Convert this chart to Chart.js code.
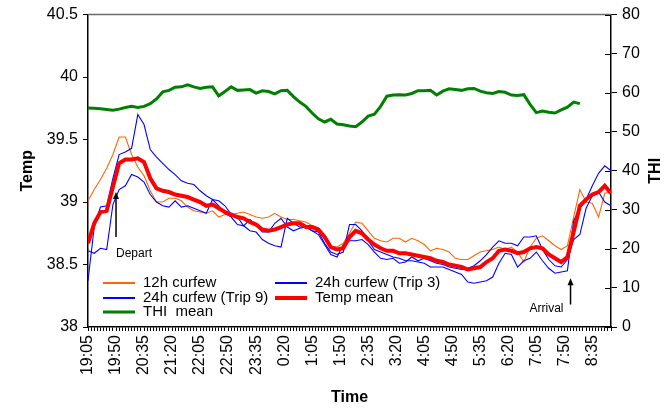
<!DOCTYPE html>
<html>
<head>
<meta charset="utf-8">
<script src="https://cdn.jsdelivr.net/npm/chart.js@4"></script>
<style>
html,body{margin:0;padding:0;background:#fff;}
#wrap{position:relative;width:671px;height:410px;}
</style>
</head>
<body>
<div id="wrap"><canvas id="chart"></canvas></div>
<script>
// minutes after 19:05, one reading every 10 min
const times = [
  0, 10, 20, 30, 40, 50, 60, 70, 80, 90,
  100, 110, 120, 130, 140, 150, 160, 170, 180, 190,
  200, 210, 220, 230, 240, 250, 260, 270, 280, 290,
  300, 310, 320, 330, 340, 350, 360, 370, 380, 390,
  400, 410, 420, 430, 440, 450, 460, 470, 480, 490,
  500, 510, 520, 530, 540, 550, 560, 570, 580, 590,
  600, 610, 620, 630, 640, 650, 660, 670, 680, 690,
  700, 710, 720, 730, 740, 750, 760, 770, 780, 790,
  800, 810, 820, 830, 840
];

const curfew12h = [
  39.01, 39.10, 39.18, 39.27, 39.38, 39.52, 39.52, 39.38, 39.28, 39.21,
  39.09, 39.00, 39.00, 39.03, 39.03, 39.01, 38.96, 38.93, 38.92, 38.91,
  38.93, 38.88, 38.90, 38.90, 38.91, 38.92, 38.90, 38.88, 38.87, 38.88,
  38.91, 38.88, 38.86, 38.86, 38.85, 38.84, 38.81, 38.79, 38.73, 38.65,
  38.64, 38.67, 38.75, 38.84, 38.83, 38.77, 38.71, 38.69, 38.68, 38.71,
  38.71, 38.68, 38.71, 38.69, 38.66, 38.61, 38.63, 38.62, 38.60, 38.55,
  38.54, 38.54, 38.57, 38.60, 38.61, 38.62, 38.64, 38.62, 38.64, 38.60,
  38.52, 38.64, 38.71, 38.73, 38.69, 38.65, 38.62, 38.65, 38.88, 39.10,
  39.00, 38.99, 38.88, 39.07, 39.08
];

const curfewTrip3 = [
  38.37, 38.80, 38.96, 38.97, 39.19, 39.38, 39.40, 39.43, 39.70, 39.62,
  39.42, 39.36, 39.31, 39.26, 39.22, 39.17, 39.15, 39.14, 39.09, 39.05,
  39.02, 39.01, 38.97, 38.90, 38.88, 38.81, 38.77, 38.76, 38.70, 38.67,
  38.65, 38.64, 38.87, 38.83, 38.80, 38.80, 38.77, 38.76, 38.67, 38.60,
  38.58, 38.60, 38.82, 38.82, 38.77, 38.69, 38.62, 38.60, 38.58, 38.56,
  38.55, 38.53, 38.53, 38.52, 38.51, 38.48, 38.48, 38.48, 38.46, 38.44,
  38.42, 38.36, 38.35, 38.36, 38.37, 38.40, 38.51, 38.59, 38.58, 38.48,
  38.53, 38.55, 38.60, 38.53, 38.47, 38.43, 38.44, 38.45, 38.85, 38.95,
  39.02, 39.13, 39.23, 39.29, 39.25
];

const curfewTrip9 = [
  38.61, 38.59, 38.63, 38.62, 38.98, 39.10, 39.13, 39.22, 39.20, 39.16,
  39.06, 39.00, 38.97, 38.96, 39.01, 38.96, 38.97, 38.95, 38.93, 38.91,
  39.02, 38.97, 38.91, 38.88, 38.82, 38.81, 38.86, 38.82, 38.76, 38.76,
  38.83, 38.87, 38.80, 38.77, 38.79, 38.80, 38.77, 38.74, 38.66, 38.58,
  38.56, 38.66, 38.69, 38.69, 38.70, 38.66, 38.60, 38.55, 38.54, 38.55,
  38.51, 38.52, 38.56, 38.53, 38.55, 38.53, 38.51, 38.50, 38.48, 38.47,
  38.46, 38.47, 38.49, 38.53, 38.58, 38.64, 38.69, 38.67, 38.67, 38.65,
  38.72, 38.72, 38.73, 38.62, 38.54, 38.49, 38.48, 38.54, 38.70, 38.74,
  38.95, 39.05, 39.08, 39.00, 38.97
];

const tempMean = [
  38.67, 38.83, 38.92, 38.93, 39.12, 39.31, 39.34, 39.34, 39.35, 39.32,
  39.19, 39.11, 39.09, 39.08, 39.06, 39.05, 39.04, 39.02, 39.00, 38.97,
  38.98, 38.95, 38.92, 38.90, 38.88, 38.87, 38.84, 38.82, 38.78, 38.77,
  38.78, 38.80, 38.82, 38.83, 38.83, 38.80, 38.80, 38.78, 38.72, 38.64,
  38.62, 38.63, 38.72, 38.77, 38.75, 38.70, 38.66, 38.63, 38.61, 38.61,
  38.59, 38.59, 38.58, 38.57, 38.56, 38.55, 38.53, 38.52, 38.50, 38.49,
  38.48, 38.46, 38.47, 38.48, 38.52, 38.55, 38.61, 38.62, 38.61, 38.59,
  38.60, 38.63, 38.64, 38.63, 38.58, 38.55, 38.52, 38.56, 38.76, 38.97,
  39.02, 39.06, 39.08, 39.13, 39.07
];

const thiMean = [
  56.1, 56.0, 55.9, 55.7, 55.5, 55.8, 56.2, 56.5, 56.2, 56.5,
  57.2, 58.4, 60.2, 60.6, 61.4, 61.5, 62.0, 61.5, 61.1, 61.4,
  61.5, 59.2, 60.3, 61.5, 60.6, 60.7, 60.8, 59.9, 60.5, 60.3,
  59.7, 60.5, 60.6, 59.0, 57.6, 56.5, 54.8, 53.3, 52.5, 53.2,
  52.0, 51.8, 51.5, 51.3, 52.5, 54.0, 54.5, 56.5, 59.1, 59.4,
  59.5, 59.4, 59.8, 60.5, 60.5, 60.6, 59.4, 60.4, 61.0, 60.8,
  60.6, 61.0, 61.1, 60.4, 60.0, 59.8, 60.3, 60.1, 59.4, 59.3,
  59.5, 57.0, 54.9, 55.3, 55.0, 54.8, 55.6, 56.3, 57.6, 57.2,
  null, null, null, null, null
];

// trip events (minutes after 19:05)
const departAt = 45;
const arrivalAt = 775;

const START_MIN = 19 * 60 + 5;
const clock = v => {
  const t = (START_MIN + v) % 1440;
  return Math.floor(t / 60) + ':' + String(t % 60).padStart(2, '0');
};
const pts = arr => times.map((t, i) => ({x: t, y: arr[i]}));

Chart.defaults.font.family = '"Liberation Sans", Arial, sans-serif';
Chart.defaults.color = '#000';

function line(label, data, color, width, axis, order){
  return {label, data: pts(data), borderColor: color, backgroundColor: color,
    borderWidth: width, pointRadius: 0, tension: 0, yAxisID: axis, order, spanGaps: false};
}

const datasets = [
  line('12h curfew', curfew12h, '#ff6600', 1.1, 'y', 2),
  line('24h curfew (Trip 3)', curfewTrip3, '#0000ff', 1.1, 'y', 1),
  line('24h curfew (Trip 9)', curfewTrip9, '#0000ff', 1.1, 'y', 1),
  line('Temp mean', tempMean, '#ff0000', 4, 'y', 0),
  line('THI  mean', thiMean, '#008000', 3, 'y2', 3)
];

// legend inside the plot, arrows, top frame line, right axis title
const extras = {
  id: 'extras',
  afterDraw(chart){
    const {ctx, chartArea: a, scales} = chart;
    const sx = scales.x, sy = scales.y, s2 = scales.y2;
    ctx.save();

    ctx.strokeStyle = '#6b6b6b';
    ctx.lineWidth = 1.5;
    ctx.beginPath();
    ctx.moveTo(a.left, a.top);
    ctx.lineTo(a.right, a.top);
    ctx.stroke();

    // right axis ticks cross the axis line
    ctx.strokeStyle = '#000';
    ctx.lineWidth = 1;
    s2.ticks.forEach(t => {
      const y = Math.round(s2.getPixelForValue(t.value)) + 0.5;
      ctx.beginPath();
      ctx.moveTo(a.right - 6, y);
      ctx.lineTo(a.right, y);
      ctx.stroke();
    });

    ctx.font = 'bold 16px "Liberation Sans", Arial, sans-serif';
    ctx.fillStyle = '#000';
    ctx.textAlign = 'center';
    ctx.textBaseline = 'middle';
    ctx.translate(chart.width - 15, (a.top + a.bottom) / 2);
    ctx.rotate(-Math.PI / 2);
    ctx.fillText('THI', 0, 0);
    ctx.setTransform(1, 0, 0, 1, 0, 0);

    const arrow = (x, yFrom, yTo) => {
      ctx.strokeStyle = '#000';
      ctx.fillStyle = '#000';
      ctx.lineWidth = 1.5;
      ctx.beginPath();
      ctx.moveTo(x, yFrom);
      ctx.lineTo(x, yTo + 5);
      ctx.stroke();
      ctx.beginPath();
      ctx.moveTo(x, yTo);
      ctx.lineTo(x - 3, yTo + 7);
      ctx.lineTo(x + 3, yTo + 7);
      ctx.closePath();
      ctx.fill();
    };
    const dx = sx.getPixelForValue(departAt);
    arrow(dx, sy.getPixelForValue(38.72), sy.getPixelForValue(39.08));
    const ax = sx.getPixelForValue(arrivalAt);
    arrow(ax, sy.getPixelForValue(38.18), sy.getPixelForValue(38.39));

    ctx.font = '12px "Liberation Sans", Arial, sans-serif';
    ctx.textBaseline = 'middle';
    ctx.textAlign = 'left';
    ctx.fillText('Depart', dx, sy.getPixelForValue(38.59));
    ctx.textAlign = 'right';
    ctx.fillText('Arrival', ax - 7, sy.getPixelForValue(38.15));

    // two-column legend, row-major
    const cols = [a.left + 15, a.left + 187];
    const rows = [a.bottom - 44, a.bottom - 29, a.bottom - 15];
    ctx.font = '15px "Liberation Sans", Arial, sans-serif';
    ctx.textAlign = 'left';
    chart.data.datasets.forEach((ds, i) => {
      const x = cols[i % 2], y = rows[Math.floor(i / 2)];
      ctx.strokeStyle = ds.borderColor;
      ctx.lineWidth = Math.max(ds.borderWidth, 2);
      ctx.beginPath();
      ctx.moveTo(x, y);
      ctx.lineTo(x + 32, y);
      ctx.stroke();
      ctx.fillStyle = '#000';
      ctx.fillText(ds.label, x + 40, y);
    });
    ctx.restore();
  }
};

new Chart(document.getElementById('chart'), {
  type: 'line',
  data: {datasets},
  plugins: [extras],
  options: {
    responsive: true,
    maintainAspectRatio: false,
    animation: false,
    devicePixelRatio: 1,
    layout: {padding: {top: 13, left: 0, right: 0, bottom: 0}},
    plugins: {legend: {display: false}, tooltip: {enabled: false}},
    scales: {
      x: {
        type: 'linear', position: 'bottom', min: 0, max: 840,
        ticks: {stepSize: 5, autoSkip: false, minRotation: 90, maxRotation: 90, padding: 4,
          font: {size: 16}, callback: v => v % 45 === 0 ? clock(v) : ''},
        grid: {drawOnChartArea: false, tickLength: 4, color: '#000'},
        border: {color: '#000', width: 1.5},
        title: {display: true, text: 'Time', font: {size: 16, weight: 'bold'}, padding: {top: 0, bottom: 3}},
        afterFit: s => { s.height = 83; }
      },
      y: {
        position: 'left', min: 38, max: 40.5,
        ticks: {stepSize: 0.5, padding: 5, font: {size: 16}, callback: v => String(v)},
        grid: {drawOnChartArea: false, tickLength: 5, color: '#000'},
        border: {color: '#000', width: 1.5},
        title: {display: true, text: 'Temp', font: {size: 16, weight: 'bold'}, padding: {top: 18, bottom: 0}},
        afterFit: s => { s.width = 88; }
      },
      y2: {
        position: 'right', min: 0, max: 80,
        ticks: {stepSize: 10, padding: 5, font: {size: 16}},
        grid: {drawOnChartArea: false, tickLength: 6, color: '#000'},
        border: {color: '#000', width: 1.5},
        afterFit: s => { s.width = 60; }
      }
    }
  }
});
</script>
</body>
</html>
